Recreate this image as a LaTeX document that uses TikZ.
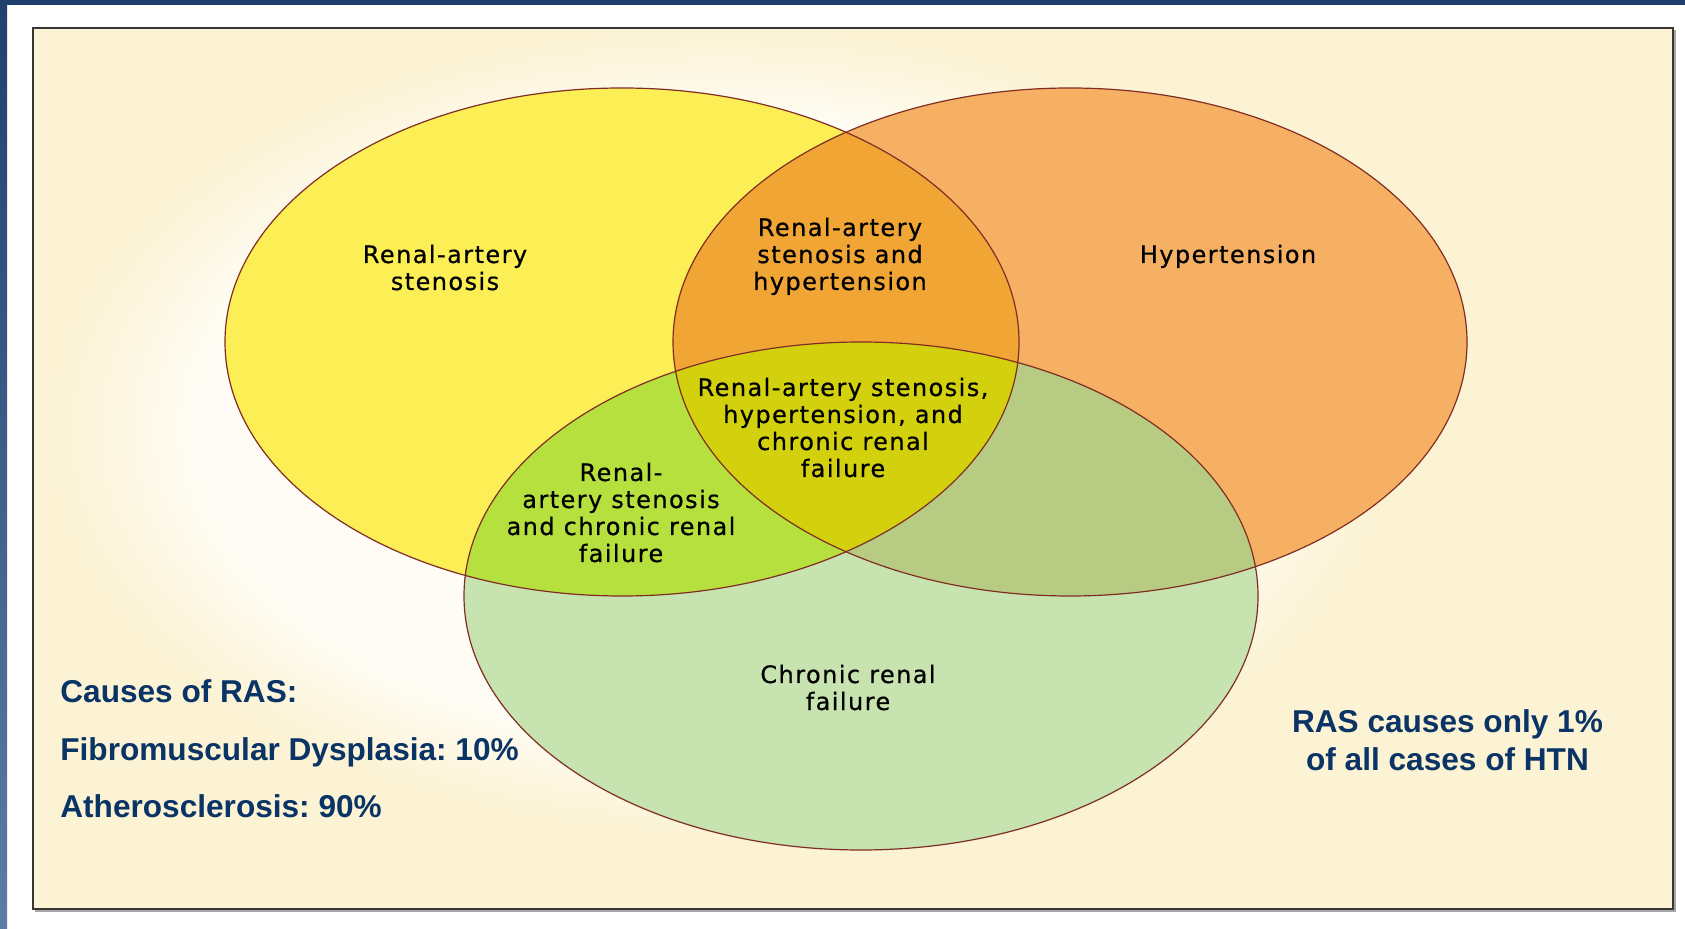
\documentclass[tikz,border=0pt]{standalone}
\usepackage{fontspec}
\setmainfont{DejaVu Sans}
\newfontfamily\lblfont[LetterSpace=6,FakeBold=0.6]{DejaVu Sans}
\newfontfamily\bluefont{Liberation Sans}
\definecolor{cream}{RGB}{252,243,212}
\definecolor{topbar}{RGB}{31,63,110}
\definecolor{bartop}{RGB}{34,64,110}
\definecolor{barbot}{RGB}{91,125,163}
\definecolor{ycol}{RGB}{251,239,85}
\definecolor{ocol}{RGB}{246,176,99}
\definecolor{gcol}{RGB}{198,227,176}
\definecolor{yocol}{RGB}{240,165,53}
\definecolor{ygcol}{RGB}{182,224,62}
\definecolor{ogcol}{RGB}{183,204,130}
\definecolor{yogcol}{RGB}{211,209,14}
\definecolor{edgecol}{RGB}{128,45,35}
\definecolor{bluet}{RGB}{10,51,102}
\definecolor{framecol}{RGB}{55,55,55}
\pgfdeclareradialshading{glow}{\pgfpoint{0bp}{0bp}}{color(0bp)=(white!85!cream); color(13.5bp)=(white!75!cream); color(17.5bp)=(cream); color(50bp)=(cream)}
\tikzset{
  venn/.style={x radius=198.5pt, y radius=127pt},
  vennedge/.style={draw=edgecol, line width=0.6pt},
  lbl/.style={font=\lblfont\fontsize{12}{13.5}\selectfont, align=center, inner sep=0pt, anchor=base, text=black},
  bluetxt/.style={font=\bluefont\bfseries\frenchspacing\fontsize{15.8}{19}\selectfont, text=bluet, inner sep=0pt}
}
\begin{document}
\begin{tikzpicture}[x=0.5pt,y=-0.5pt]
\useasboundingbox (0,0) rectangle (1685,929);
\fill[white] (0,0) rectangle (1685,929);
\fill[topbar] (0,0) rectangle (1685,5);
\shade[top color=bartop, bottom color=barbot] (0,5) rectangle (7,929);
% frame
\fill[black!35] (35,30) rectangle (1676,912);
\fill[cream] (33,28) rectangle (1673,909);
\begin{scope}
  \clip (33,28) rectangle (1673,909);
  \shade[shading=glow] (-240,-143) rectangle (1680,1003);
\end{scope}
\draw[framecol, line width=1.1pt] (33,28) rectangle (1673,909);
% venn
\coordinate (cY) at (622,342);
\coordinate (cO) at (1070,342);
\coordinate (cG) at (861,596);
\fill[ycol] (cY) ellipse [venn];
\fill[ocol] (cO) ellipse [venn];
\fill[gcol] (cG) ellipse [venn];
\begin{scope}
  \clip (cY) ellipse [venn];
  \fill[yocol] (cO) ellipse [venn];
  \fill[ygcol] (cG) ellipse [venn];
\end{scope}
\begin{scope}
  \clip (cO) ellipse [venn];
  \fill[ogcol] (cG) ellipse [venn];
\end{scope}
\begin{scope}
  \clip (cY) ellipse [venn];
  \clip (cO) ellipse [venn];
  \fill[yogcol] (cG) ellipse [venn];
\end{scope}
\draw[vennedge] (cY) ellipse [venn];
\draw[vennedge] (cO) ellipse [venn];
\draw[vennedge] (cG) ellipse [venn];
% labels (base anchor = last line)
\node[lbl] (ras) at (445,290) {Renal-artery\\stenosis};
\node[lbl] (rashtn) at (840,290) {Renal-artery\\stenosis and\\hypertension};
\node[lbl] (htn) at (1228,263) {Hypertension};
\node[lbl] (all) at (843,477) {Renal-artery stenosis,\\hypertension, and\\chronic renal\\failure};
\node[lbl] (rascrf) at (621,562) {Renal-\\artery stenosis\\and chronic renal\\failure};
\node[lbl] (crf) at (848,710) {Chronic renal\\failure};
% blue notes
\node[bluetxt, anchor=base west] (causes) at (60,702) {Causes of RAS:};
\node[bluetxt, anchor=base west] (fmd) at (60,760) {Fibromuscular Dysplasia: 10\%};
\node[bluetxt, anchor=base west] (athero) at (60,817) {Atherosclerosis: 90\%};
\node[bluetxt, anchor=base, align=center] (note) at (1447.5,770) {RAS causes only 1\%\\of all cases of HTN};
\end{tikzpicture}
\end{document}
